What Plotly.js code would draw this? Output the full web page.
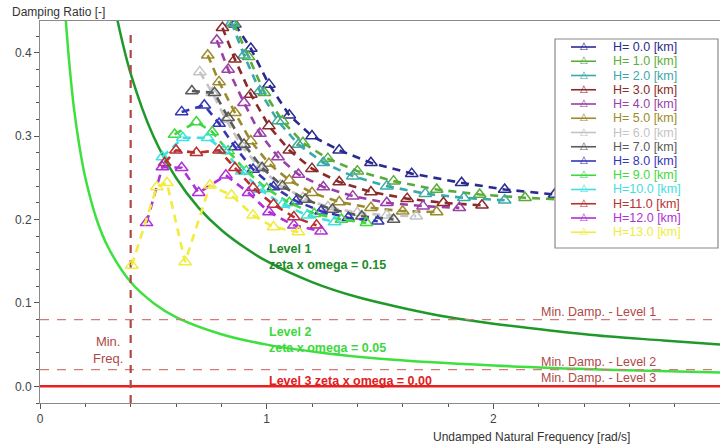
<!DOCTYPE html>
<html><head><meta charset="utf-8">
<script src="https://cdn.plot.ly/plotly-3.0.1.min.js"></script>
<style>html,body{margin:0;padding:0;background:#fff}#chart{width:720px;height:445px}</style>
</head><body><div id="chart"></div>
<script>
// ---- Data ----
const seriesLabels = ["H= 0.0 [km]","H= 1.0 [km]","H= 2.0 [km]","H= 3.0 [km]","H= 4.0 [km]","H= 5.0 [km]","H= 6.0 [km]","H= 7.0 [km]","H= 8.0 [km]","H= 9.0 [km]","H=10.0 [km]","H=11.0 [km]","H=12.0 [km]","H=13.0 [km]"];
const seriesColors = ["#2b2b8f","#5aac3a","#3aa9a9","#8b2a2a","#9b3fa8","#9c8a2c","#c4c4c4","#5a5a5a","#3535b5","#3fd83f","#3fe0e0","#b83030","#b030d8","#f0ec40"];

const omegaH0  = [0.86, 0.93, 1.01, 1.10, 1.20, 1.32, 1.46, 1.64, 1.86, 2.05, 2.27, 2.50, 2.75];
const zetaH0   = [0.434, 0.405, 0.362, 0.325, 0.300, 0.283, 0.268, 0.255, 0.244, 0.236, 0.230, 0.227, 0.225];
const omegaH1  = [0.855, 0.92, 0.99, 1.07, 1.16, 1.27, 1.40, 1.56, 1.75, 1.94, 2.14, 2.38];
const zetaH1   = [0.435, 0.395, 0.352, 0.318, 0.292, 0.273, 0.258, 0.246, 0.236, 0.230, 0.226, 0.223];
const omegaH2  = [0.845, 0.90, 0.97, 1.05, 1.14, 1.25, 1.38, 1.53, 1.70, 1.87, 2.05];
const zetaH2   = [0.436, 0.397, 0.354, 0.318, 0.290, 0.268, 0.252, 0.240, 0.231, 0.226, 0.223];
const omegaH3  = [0.805, 0.86, 0.93, 1.01, 1.10, 1.20, 1.32, 1.46, 1.62, 1.78, 1.95];
const zetaH3   = [0.430, 0.392, 0.350, 0.312, 0.283, 0.261, 0.245, 0.233, 0.225, 0.220, 0.217];
const omegaH4  = [0.78, 0.83, 0.90, 0.97, 1.05, 1.14, 1.25, 1.38, 1.53, 1.69, 1.85];
const zetaH4   = [0.415, 0.380, 0.340, 0.303, 0.275, 0.254, 0.239, 0.228, 0.220, 0.216, 0.214];
const omegaH5  = [0.74, 0.79, 0.86, 0.93, 1.01, 1.10, 1.20, 1.32, 1.46, 1.60, 1.75];
const zetaH5   = [0.397, 0.365, 0.328, 0.294, 0.267, 0.247, 0.232, 0.221, 0.214, 0.210, 0.209];
const omegaH6  = [0.705, 0.76, 0.82, 0.89, 0.97, 1.06, 1.16, 1.27, 1.40, 1.53, 1.66];
const zetaH6   = [0.377, 0.352, 0.320, 0.288, 0.262, 0.241, 0.226, 0.215, 0.208, 0.205, 0.204];
const omegaH7  = [0.67, 0.77, 0.83, 0.90, 0.98, 1.07, 1.17, 1.29, 1.42, 1.56];
const zetaH7   = [0.354, 0.352, 0.322, 0.290, 0.262, 0.240, 0.224, 0.212, 0.204, 0.200];
const omegaH8  = [0.625, 0.725, 0.79, 0.86, 0.94, 1.03, 1.13, 1.24, 1.36, 1.49];
const zetaH8   = [0.329, 0.337, 0.315, 0.287, 0.260, 0.239, 0.222, 0.210, 0.202, 0.198];
const omegaH9  = [0.594, 0.69, 0.76, 0.83, 0.91, 1.00, 1.10, 1.21, 1.33, 1.44];
const zetaH9   = [0.302, 0.317, 0.305, 0.282, 0.258, 0.237, 0.220, 0.207, 0.200, 0.196];
const omegaH10 = [0.54, 0.63, 0.74, 0.81, 0.89, 0.97, 1.07, 1.18, 1.30];
const zetaH10  = [0.275, 0.298, 0.298, 0.283, 0.258, 0.236, 0.218, 0.205, 0.197];
const omegaH11 = [0.55, 0.60, 0.69, 0.79, 0.86, 0.94, 1.03, 1.12, 1.22];
const zetaH11  = [0.268, 0.283, 0.280, 0.283, 0.262, 0.238, 0.218, 0.203, 0.193];
const omegaH12 = [0.47, 0.54, 0.625, 0.70, 0.82, 0.92, 1.01, 1.12, 1.24];
const zetaH12  = [0.196, 0.263, 0.262, 0.232, 0.253, 0.232, 0.209, 0.193, 0.186];
const omegaH13 = [0.405, 0.515, 0.56, 0.64, 0.75, 0.845, 0.94, 1.03, 1.14];
const zetaH13  = [0.145, 0.239, 0.244, 0.149, 0.241, 0.229, 0.205, 0.191, 0.185];

// Level boundary curves (zeta x omega = const)
const level1Omega = [0.34, 0.4, 0.5, 0.6, 0.7, 0.8, 0.9, 1.0, 1.2, 1.4, 1.6, 1.8, 2.0, 2.25, 2.5, 2.75, 3.0];
const level1Zeta  = [0.441, 0.375, 0.30, 0.25, 0.214, 0.1875, 0.167, 0.15, 0.125, 0.107, 0.094, 0.083, 0.075, 0.067, 0.06, 0.055, 0.05];
const level2Omega = [0.113, 0.13, 0.15, 0.175, 0.2, 0.25, 0.3, 0.4, 0.5, 0.6, 0.8, 1.0, 1.25, 1.5, 2.0, 2.5, 3.0];
const level2Zeta  = [0.442, 0.385, 0.333, 0.286, 0.25, 0.2, 0.167, 0.125, 0.1, 0.083, 0.0625, 0.05, 0.04, 0.033, 0.025, 0.02, 0.0167];
const level3Omega = [0, 3];
const level3Zeta  = [0, 0];

const minFreqOmega = [0.4, 0.4];
const minFreqZeta  = [-0.02, 0.428];
const minDampOmega = [0, 3];
const minDamp1Zeta = [0.08, 0.08];
const minDamp2Zeta = [0.02, 0.02];

const xTickVals = [0, 1, 2, 3];
const yTickVals = [0, 0.1, 0.2, 0.3, 0.4];

const omegaSets = [omegaH0,omegaH1,omegaH2,omegaH3,omegaH4,omegaH5,omegaH6,omegaH7,omegaH8,omegaH9,omegaH10,omegaH11,omegaH12,omegaH13];
const zetaSets  = [zetaH0,zetaH1,zetaH2,zetaH3,zetaH4,zetaH5,zetaH6,zetaH7,zetaH8,zetaH9,zetaH10,zetaH11,zetaH12,zetaH13];

// ---- Geometry helpers (layout only) ----
const W = 720, H = 445, ML = 40, MR = 0, MT = 21, MB = 42;
const PW = W - ML - MR, PH = H - MT - MB;
const px = x => (x - ML) / PW;
const py = y => (H - MB - y) / PH;

const FONT = "Liberation Sans, Arial, sans-serif";
const refRed = "#b04848";

const traces = [];
traces.push({x: level2Omega, y: level2Zeta, mode: 'lines', line: {color: '#3ee03e', width: 2.5, shape: 'spline'}, hoverinfo: 'skip'});
traces.push({x: level1Omega, y: level1Zeta, mode: 'lines', line: {color: '#1f9a2a', width: 2.5, shape: 'spline'}, hoverinfo: 'skip'});
traces.push({x: minDampOmega, y: minDamp1Zeta, mode: 'lines', line: {color: '#d47a7a', width: 1.3, dash: '9px,8px'}});
traces.push({x: minDampOmega, y: minDamp2Zeta, mode: 'lines', line: {color: '#d47a7a', width: 1.3, dash: '9px,8px'}});
traces.push({x: level3Omega, y: level3Zeta, mode: 'lines', line: {color: '#e82020', width: 2.6}});
traces.push({x: minFreqOmega, y: minFreqZeta, mode: 'lines', line: {color: refRed, width: 2.2, dash: '8px,7px'}});

for (let i = 0; i < omegaSets.length; i++) {
  traces.push({
    x: omegaSets[i], y: zetaSets[i], name: seriesLabels[i],
    mode: 'lines+markers',
    line: {color: seriesColors[i], width: 2.6, dash: '8px,6px'},
    marker: {symbol: 'triangle-up-open', size: 11, color: seriesColors[i], line: {width: 1.5, color: seriesColors[i]}}
  });
}

const annotations = [
  {xref: 'paper', yref: 'paper', x: px(10), y: py(12), xanchor: 'left', yanchor: 'middle', showarrow: false,
   text: 'Damping Ratio [-]', font: {family: FONT, size: 12, color: '#333'}},
  {xref: 'paper', yref: 'paper', x: px(531), y: py(437), xanchor: 'center', yanchor: 'middle', showarrow: false,
   text: 'Undamped Natural Frequency [rad/s]', font: {family: FONT, size: 12, color: '#333'}},
  {x: 2.205, y: 0.08, xanchor: 'left', yanchor: 'bottom', showarrow: false, borderpad: 0,
   text: 'Min. Damp. - Level 1', font: {family: FONT, size: 12.5, color: refRed}},
  {x: 2.205, y: 0.02, xanchor: 'left', yanchor: 'bottom', showarrow: false, borderpad: 0,
   text: 'Min. Damp. - Level 2', font: {family: FONT, size: 12.5, color: refRed}},
  {x: 2.205, y: 0.0, xanchor: 'left', yanchor: 'bottom', showarrow: false, borderpad: 0,
   text: 'Min. Damp. - Level 3', font: {family: FONT, size: 12.5, color: refRed}},
  {x: 0.30, y: 0.044, xanchor: 'center', yanchor: 'middle', showarrow: false, align: 'center',
   text: 'Min.<br>Freq.', font: {family: FONT, size: 13, color: refRed}},
  {x: 1.0, y: 0.175, xanchor: 'left', yanchor: 'top', showarrow: false, align: 'left',
   text: '<b>Level 1</b><br><b>zeta x omega = 0.15</b>', font: {family: FONT, size: 12.5, color: '#1f8a2a'}},
  {x: 1.0, y: 0.076, xanchor: 'left', yanchor: 'top', showarrow: false, align: 'left',
   text: '<b>Level 2</b><br><b>zeta x omega = 0.05</b>', font: {family: FONT, size: 12.5, color: '#3ed83e'}},
  {x: 1.0, y: 0.006, xanchor: 'left', yanchor: 'middle', showarrow: false, align: 'left',
   text: '<b>Level 3 zeta x omega = 0.00</b>', font: {family: FONT, size: 12.5, color: '#e02020'}}
];

const shapes = [
  {type: 'rect', xref: 'paper', yref: 'paper', x0: px(555), x1: px(718), y0: py(248), y1: py(39),
   fillcolor: '#ffffff', line: {color: '#888', width: 1.2}, layer: 'above'}
];

// custom legend (drawn as layout items)
const rowTop = 47, rowStep = 14.25;
for (let i = 0; i < seriesLabels.length; i++) {
  const yy = py(rowTop + i * rowStep);
  shapes.push({type: 'line', xref: 'paper', yref: 'paper', x0: px(571), x1: px(596), y0: yy, y1: yy,
    line: {color: seriesColors[i], width: 1.6}, layer: 'above'});
  annotations.push({xref: 'paper', yref: 'paper', x: px(583.5), y: yy + 1.5 / PH, xanchor: 'center', yanchor: 'middle',
    showarrow: false, text: '△', font: {family: 'DejaVu Sans', size: 10, color: seriesColors[i]}, borderpad: 0});
  annotations.push({xref: 'paper', yref: 'paper', x: px(612), y: yy, xanchor: 'left', yanchor: 'middle',
    showarrow: false, text: seriesLabels[i], font: {family: FONT, size: 12.5, color: seriesColors[i]}, borderpad: 0});
}

const axisCommon = {
  showgrid: false, zeroline: false, showline: true, linecolor: '#8a8a8a', linewidth: 1,
  ticks: 'outside', ticklen: 5, tickwidth: 1, tickcolor: '#555',
  tickfont: {family: FONT, size: 12, color: '#444'}
};

const layout = {
  width: W, height: H,
  margin: {l: ML, r: MR, t: MT, b: MB, pad: 0},
  paper_bgcolor: '#fff', plot_bgcolor: '#fff',
  showlegend: false,
  xaxis: Object.assign({}, axisCommon, {range: [0, 3], tickvals: xTickVals, ticktext: xTickVals.map(String), mirror: true,
    minor: {dtick: 0.2, tick0: 0, ticks: 'outside', ticklen: 3, tickcolor: '#555'}}),
  yaxis: Object.assign({}, axisCommon, {range: [-0.02, 0.438], tickvals: yTickVals, tickformat: '.1f',
    minor: {dtick: 0.02, tick0: 0, ticks: 'outside', ticklen: 3, tickcolor: '#555'}}),
  annotations: annotations,
  shapes: shapes
};

Plotly.newPlot('chart', traces, layout, {displayModeBar: false, staticPlot: true});
</script></body></html>
